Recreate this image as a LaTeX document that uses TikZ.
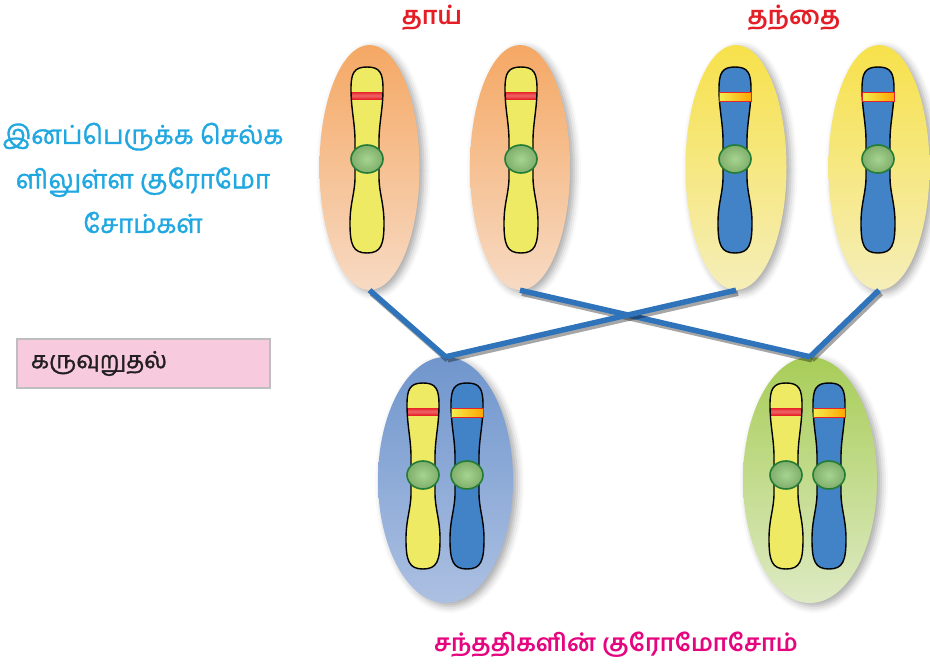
\documentclass[tikz,border=0pt]{standalone}
\usepackage{fontspec}
\usetikzlibrary{shapes.geometric,shadows.blur}
\newfontfamily\tamil[Script=Tamil]{Hind Madurai}
\newfontfamily\tamilmid[Script=Tamil,FakeBold=1.4]{Hind Madurai}

\definecolor{titlered}{RGB}{228,30,38}
\definecolor{labelcyan}{RGB}{34,168,225}
\definecolor{labelmagenta}{RGB}{229,5,127}
\definecolor{boxpink}{RGB}{248,202,222}
\definecolor{boxgray}{RGB}{190,190,190}
\definecolor{inkdark}{RGB}{35,31,32}
\definecolor{linkblue}{RGB}{47,116,186}
\definecolor{chromyellow}{RGB}{238,234,100}
\definecolor{chromblue}{RGB}{66,130,198}
\definecolor{bandred}{RGB}{230,35,40}
\definecolor{centfill}{RGB}{150,205,125}
\definecolor{centedge}{RGB}{35,125,55}
\definecolor{orangetop}{RGB}{245,168,100}
\definecolor{orangebot}{RGB}{247,218,195}
\definecolor{yellowtop}{RGB}{247,225,75}
\definecolor{yellowbot}{RGB}{245,238,185}
\definecolor{bluetop}{RGB}{112,150,205}
\definecolor{bluebot}{RGB}{172,192,226}
\definecolor{greentop}{RGB}{168,205,88}
\definecolor{greenbot}{RGB}{222,234,195}

% outline of one chromosome, centred on its centromere
\newcommand\chromoutline{(0,-92)
  .. controls (13,-92) and (16,-86) .. (16,-70)
  .. controls (16,-50) and (12,-36) .. (12,-18)
  -- (12,18)
  .. controls (12,34) and (17,44) .. (17,64)
  .. controls (17,86) and (14,94) .. (0,94)
  .. controls (-14,94) and (-17,86) .. (-17,64)
  .. controls (-17,44) and (-12,34) .. (-12,18)
  -- (-12,-18)
  .. controls (-12,-36) and (-16,-50) .. (-16,-70)
  .. controls (-16,-86) and (-13,-92) .. (0,-92) -- cycle}

\tikzset{
  chromline/.style={draw=black, line width=1.4pt},
  centro/.style={draw=centedge, line width=1.6pt, inner color=centfill!85!white, outer color=centfill!85!black},
  cell/.style={ellipse, inner sep=0pt, blur shadow={shadow xshift=4pt, shadow yshift=-3pt, shadow blur radius=7pt, shadow opacity=35}},
  mothercell/.style={cell, minimum width=100pt, minimum height=245pt, top color=orangetop, bottom color=orangebot},
  fathercell/.style={cell, minimum width=101pt, minimum height=245pt, top color=yellowtop, bottom color=yellowbot},
  childblue/.style={cell, minimum width=135pt, minimum height=246pt, top color=bluetop, bottom color=bluebot},
  childgreen/.style={cell, minimum width=134pt, minimum height=246pt, top color=greentop, bottom color=greenbot},
  link/.style={draw=linkblue, line width=5.5pt,
    preaction={draw=black, draw opacity=0.35, line width=5.5pt, transform canvas={shift={(2pt,-3pt)}}}},
  redtitle/.style={font=\tamil\bfseries\fontsize{25}{30}\selectfont, text=titlered},
  pics/ychromo/.style={code={
    \begin{scope}
      \clip \chromoutline;
      \fill[chromyellow] \chromoutline;
      \shade[top color=bandred, bottom color=bandred, middle color=bandred!70!white] (-18,-67) rectangle (18,-60);
    \end{scope}
    \path[chromline] \chromoutline;
    \path[centro] (0,0) ellipse [x radius=16, y radius=14];
  }},
  pics/bchromo/.style={code={
    \fill[chromblue] \chromoutline;
    \path[chromline] \chromoutline;
    \shade[left color=chromyellow!80!yellow, right color=orange!70!yellow, draw=bandred, line width=1pt] (-16,-67) rectangle (16,-58);
    \path[centro] (0,0) ellipse [x radius=16, y radius=14];
  }}
}

\begin{document}
\begin{tikzpicture}[x=1pt,y=-1pt]
\useasboundingbox (0,0) rectangle (930,664);

% parent cells
\node[mothercell] (m1) at (369.5,167.5) {};
\node[mothercell] (m2) at (520,167.5) {};
\node[fathercell] (f1) at (736,167.5) {};
\node[fathercell] (f2) at (879,167.5) {};

% offspring cells
\node[childblue]  (c1) at (445.5,480) {};
\node[childgreen] (c2) at (810,480) {};

% inheritance links
\draw[link] (m1.south) -- (c1.north);
\draw[link] (m2.south) -- (c2.north);
\draw[link] (f1.south) -- (c1.north);
\draw[link] (f2.south) -- (c2.north);

% chromosomes
\pic at (367,159) {ychromo};
\pic at (521,159) {ychromo};
\pic at (735,159) {bchromo};
\pic at (878,159) {bchromo};
\pic at (423,475) {ychromo};
\pic at (467,475) {bchromo};
\pic at (786,475) {ychromo};
\pic at (829,475) {bchromo};

% labels
\node[redtitle] (mother) at (432,18) {தாய்};
\node[redtitle] (father) at (794,18) {தந்தை};
\node[font=\tamilmid\fontsize{26}{44.5}\selectfont, text=labelcyan, align=center] (gametes) at (143,178)
  {இனப்பெருக்க செல்க\\ளிலுள்ள குரோமோ\\சோம்கள்};
\node[draw=boxgray, line width=2pt, fill=boxpink, minimum height=49pt, text width=225pt,
  inner xsep=14pt, align=left, font=\tamilmid\fontsize{23.5}{26}\selectfont, text=inkdark] (fertil) at (143.5,363.5)
  {கருவுறுதல்};
\node[font=\tamil\bfseries\fontsize{24}{28}\selectfont, text=labelmagenta] (offspring) at (616,645)
  {சந்ததிகளின் குரோமோசோம்};
\end{tikzpicture}
\end{document}
